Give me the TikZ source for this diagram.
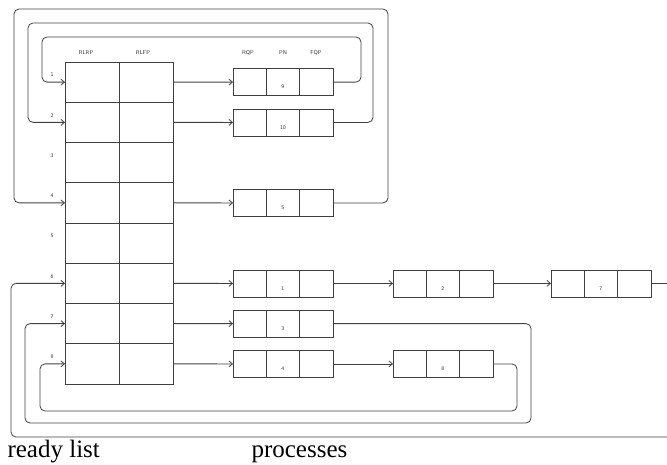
\documentclass[tikz,border=0pt]{standalone}
\usepackage{fontspec}
\setmainfont{Liberation Serif}
\usetikzlibrary{positioning, arrows.meta}

\tikzset{
    line/.style={draw=black!75, line width=0.8pt},
    cell/.style={line, minimum width=54pt, minimum height=40.25pt,
        inner sep=0pt, outer sep=0pt},
    pcell/.style={line, minimum width=33.3pt, minimum height=27pt,
        inner sep=0pt, outer sep=0pt},
    tag/.style={font=\fontsize{5.5}{6}\sffamily\selectfont, text=black!80},
    link/.style={line, -{Straight Barb[length=3.5pt, width=6pt]}},
    loopback/.style={link, rounded corners=5pt},
    caption/.style={anchor=base west, font=\fontsize{25}{25}\selectfont}
}

\begin{document}
\begin{tikzpicture}[x=1pt, y=-1pt]
    \useasboundingbox (0,0) rectangle (667,464);

    % ready list
    \foreach \i in {1,...,8} {
        \node[cell, anchor=north west] (rlrp\i) at (65,{62+40.25*(\i-1)}) {};
        \node[cell, right=0pt of rlrp\i] (rlfp\i) {};
        \node[tag] (num\i) at (52,{75+40.25*(\i-1)}) {\i};
    }
    \node[tag] (hRLRP) at (86,53) {RLRP};
    \node[tag] (hRLFP) at (143,53) {RLFP};

    % processes
    \foreach \n/\x/\y/\pn in {p9/233/82.1/9, p10/233/122.4/10, p5/233/202.9/5,
            p1/233/283.4/1, p3/233/323.6/3, p4/233/363.9/4,
            p2/393/283.4/2, p7/551/283.4/7, p8/393/363.9/8} {
        \node[pcell, anchor=west] (\n a) at (\x,\y) {};
        \node[pcell, right=0pt of \n a,
            label={[tag, yshift=-5pt]center:\pn}] (\n b) {};
        \node[pcell, right=0pt of \n b] (\n c) {};
    }
    \node[tag] (hRQP) at (248,53) {RQP};
    \node[tag] (hPN) at (283,53) {PN};
    \node[tag] (hFQP) at (316,53) {FQP};

    % ready list -> process queues
    \draw[link] (rlfp1.east) -- (p9a.west);
    \draw[link] (rlfp2.east) -- (p10a.west);
    \draw[link] (rlfp4.east) -- (p5a.west);
    \draw[link] (rlfp6.east) -- (p1a.west);
    \draw[link] (rlfp7.east) -- (p3a.west);
    \draw[link] (rlfp8.east) -- (p4a.west);

    \draw[link] (p1c.east) -- (p2a.west);
    \draw[link] (p2c.east) -- (p7a.west);
    \draw[link] (p4c.east) -- (p8a.west);

    % back pointers
    \draw[loopback] (p9c.east) -| (361,37)
        -| ([xshift=-23pt]rlrp1.west) -- (rlrp1.west);
    \draw[loopback] (p10c.east) -| (373,23)
        -| ([xshift=-37pt]rlrp2.west) -- (rlrp2.west);
    \draw[loopback] (p5c.east) -| (388,9)
        -| ([xshift=-51pt]rlrp4.west) -- (rlrp4.west);
    \draw[loopback] (p8c.east) -| (517,411)
        -| ([xshift=-25pt]rlrp8.west) -- (rlrp8.west);
    \draw[loopback] (p3c.east) -| (531,423)
        -| ([xshift=-40pt]rlrp7.west) -- (rlrp7.west);

    \coordinate (exit) at (667,283.4);
    \coordinate (entry) at (667,437);
    \draw[line] (p7c.east) -- (exit);
    \draw[loopback] (entry) -| ([xshift=-54pt]rlrp6.west) -- (rlrp6.west);

    \node[caption] (rl) at (4,457) {ready list};
    \node[caption] (pr) at (248,457) {processes};
\end{tikzpicture}
\end{document}
